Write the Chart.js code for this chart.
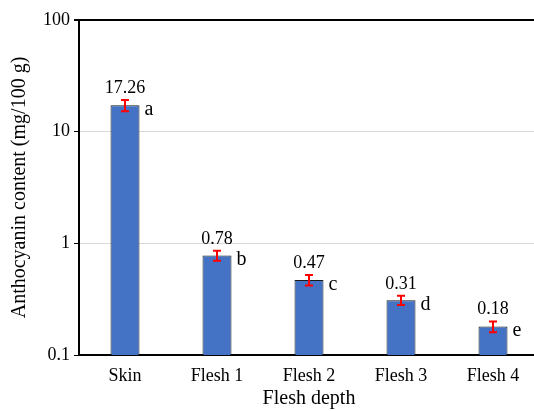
<!DOCTYPE html>
<html>
<head>
<meta charset="utf-8">
<script src="https://cdn.jsdelivr.net/npm/chart.js@4.4.1/dist/chart.umd.min.js"></script>
<style>
  html, body { margin: 0; padding: 0; background: #fff; overflow: hidden; }
  #wrap { width: 540px; height: 411px; }
</style>
</head>
<body>
<div id="wrap"><canvas id="chart"></canvas></div>
<script>
// data
const categories = ["Skin", "Flesh 1", "Flesh 2", "Flesh 3", "Flesh 4"];
const anthocyanin = [17.26, 0.78, 0.47, 0.31, 0.18];
const errors = [2.0, 0.08, 0.05, 0.03, 0.02];
const letters = ["a", "b", "c", "d", "e"];
const yTicks = [0.1, 1, 10, 100];

const FONT = "'Liberation Serif', 'Times New Roman', serif";

// error bars, value labels and significance letters
const annotate = {
  id: "annotate",
  afterDatasetsDraw(chart) {
    const ctx = chart.ctx;
    const y = chart.scales.y;
    const bars = chart.getDatasetMeta(0).data;
    ctx.save();
    bars.forEach((bar, i) => {
      const v = anthocyanin[i];
      const e = errors[i];
      const yTop = y.getPixelForValue(v + e);
      const yBot = y.getPixelForValue(v - e);
      ctx.strokeStyle = "#ff0000";
      ctx.lineWidth = 2;
      ctx.beginPath();
      ctx.moveTo(bar.x, yTop); ctx.lineTo(bar.x, yBot);
      ctx.moveTo(bar.x - 4, yTop); ctx.lineTo(bar.x + 4, yTop);
      ctx.moveTo(bar.x - 4, yBot); ctx.lineTo(bar.x + 4, yBot);
      ctx.stroke();

      ctx.fillStyle = "#000";
      ctx.font = "18px " + FONT;
      ctx.textAlign = "center";
      ctx.textBaseline = "alphabetic";
      ctx.fillText(v.toFixed(2), bar.x, yTop - 7);

      ctx.font = "20px " + FONT;
      ctx.textAlign = "left";
      ctx.fillText(letters[i], bar.x + bar.width / 2 + 5, bar.y + 10);
    });
    ctx.restore();
  }
};

new Chart(document.getElementById("chart"), {
  type: "bar",
  data: {
    labels: categories,
    datasets: [{
      data: anthocyanin,
      backgroundColor: "#4472c4",
      borderColor: "#1a1a1a",
      borderWidth: 1,
      barPercentage: 0.63,
      categoryPercentage: 0.5
    }]
  },
  options: {
    responsive: true,
    maintainAspectRatio: false,
    animation: false,
    layout: { padding: { top: 20, right: 1, left: 0, bottom: 0 } },
    plugins: { legend: { display: false }, tooltip: { enabled: false } },
    scales: {
      x: {
        grid: { display: false },
        border: { color: "#000", width: 2 },
        ticks: { color: "#000", font: { family: FONT, size: 18 }, padding: 2 },
        title: {
          display: true, text: "Flesh depth", color: "#000",
          font: { family: FONT, size: 20 }, padding: { top: 0, bottom: 0 }
        },
        afterFit(scale) { scale.height = 56; }
      },
      y: {
        type: "logarithmic",
        min: 0.1,
        max: 100,
        afterBuildTicks(scale) {
          scale.ticks = yTicks.map(v => ({ value: v }));
        },
        grid: {
          color: c => c.tick && c.tick.value === 100 ? "#000" : "#d9d9d9",
          lineWidth: c => c.tick && c.tick.value === 100 ? 2 : 1,
          tickColor: "#000",
          tickLength: 5
        },
        border: { color: "#000", width: 2 },
        ticks: {
          color: "#000",
          font: { family: FONT, size: 18 },
          padding: 4,
          callback: v => String(v)
        },
        title: {
          display: true, text: "Anthocyanin content (mg/100 g)", color: "#000",
          font: { family: FONT, size: 20 }, padding: { top: 8, bottom: 0 }
        },
        afterFit(scale) { scale.width = 79; }
      }
    }
  },
  plugins: [annotate]
});
</script>
</body>
</html>
